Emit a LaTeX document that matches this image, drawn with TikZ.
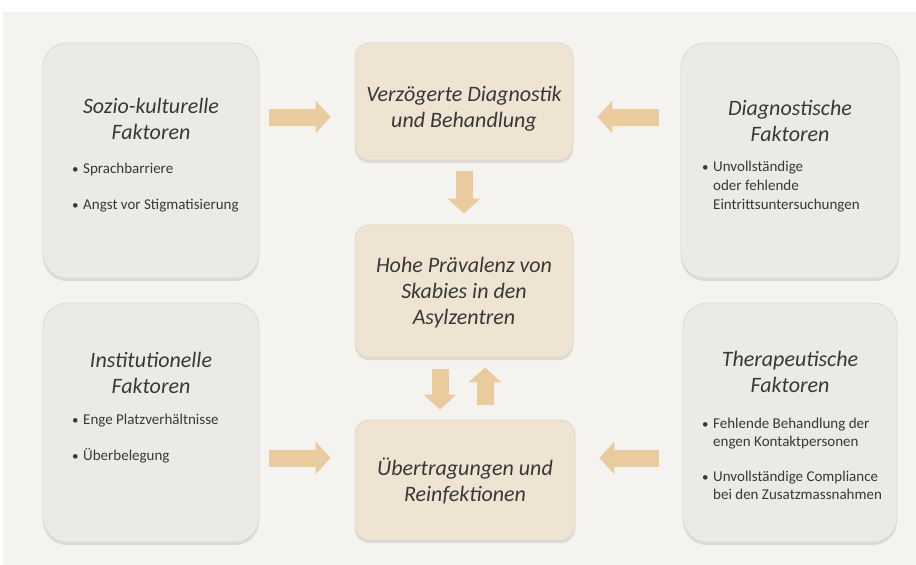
\documentclass[tikz,border=0pt]{standalone}
\usepackage{fontspec}
\setmainfont{Carlito}
\usetikzlibrary{arrows.meta,shadows}
\definecolor{bg}{HTML}{F4F3EF}
\definecolor{sidefill}{HTML}{ECEAE7}
\definecolor{sideborder}{HTML}{DDDAD6}
\definecolor{cfill}{HTML}{EFE3D1}
\definecolor{cborder}{HTML}{E6D7C2}
\definecolor{arrowc}{HTML}{EACB9E}
\definecolor{txt}{HTML}{383838}
\tikzset{
  sidebox/.style={draw=sideborder, fill=sidefill, line width=0.8pt, rounded corners=24pt,
    drop shadow={shadow xshift=0pt, shadow yshift=-3pt, opacity=0.10, fill=black}},
  centerbox/.style={draw=cborder, fill=cfill, line width=0.8pt, rounded corners=14pt,
    drop shadow={shadow xshift=0pt, shadow yshift=-3pt, opacity=0.10, fill=black}},
  titletext/.style={font=\fontsize{22}{26}\selectfont\itshape, text=txt, align=center, inner sep=0pt},
  bullettext/.style={font=\fontsize{15}{18}\selectfont, text=txt, align=left, inner sep=0pt, anchor=base west},
  bulletdot/.style={font=\fontsize{13}{18}\selectfont, text=txt, inner sep=0pt, anchor=base west},
  blockarrow/.style={draw=arrowc, line width=17pt, -{Triangle[width=32pt,length=15pt]}},
}
\begin{document}
\begin{tikzpicture}[x=1pt,y=-1pt]
\useasboundingbox (0,0) rectangle (916,565);
\fill[white] (0,0) rectangle (916,565);
\fill[bg] (3,12) rectangle (916,565);

% side boxes
\node[sidebox, minimum width=216pt, minimum height=235pt] (soz) at (151,160.5) {};
\node[sidebox, minimum width=218pt, minimum height=235pt] (dia) at (790,160.5) {};
\node[sidebox, minimum width=216pt, minimum height=239pt] (ins) at (151,422.5) {};
\node[sidebox, minimum width=214pt, minimum height=239pt] (the) at (790,422.5) {};

% center boxes
\node[centerbox, minimum width=218pt, minimum height=117pt] (ver) at (464,101.5) {};
\node[centerbox, minimum width=218pt, minimum height=132pt] (hoh) at (464,291) {};
\node[centerbox, minimum width=220pt, minimum height=120pt] (ueb) at (465,480) {};

% center texts
\node[titletext] (vert) at (464,109) {Verzögerte Diagnostik\\und Behandlung};
\node[titletext] (hoht) at (464,293) {Hohe Prävalenz von\\Skabies in den\\Asylzentren};
\node[titletext] (uebt) at (465,481) {Übertragungen und\\Reinfektionen};

% side titles
\node[titletext] (sozt) at (151,119) {Sozio-kulturelle\\Faktoren};
\node[titletext] (diat) at (790,121) {Diagnostische\\Faktoren};
\node[titletext] (inst) at (151,373) {Institutionelle\\Faktoren};
\node[titletext] (thet) at (790,372) {Therapeutische\\Faktoren};

% bullets: Sozio
\node[bulletdot] (sozb1) at (72,173) {•};
\node[bullettext] (sozl1) at (83,173) {Sprachbarriere};
\node[bulletdot] (sozb2) at (72,209) {•};
\node[bullettext] (sozl2) at (83,209) {Angst vor Stigmatisierung};

% bullets: Diagnostische
\node[bulletdot] (diab1) at (702,171) {•};
\node[bullettext] (dial1) at (713,171) {Unvollständige};
\node[bullettext] (dial2) at (713,190) {oder fehlende};
\node[bullettext] (dial3) at (713,209) {Eintrittsuntersuchungen};

% bullets: Institutionelle
\node[bulletdot] (insb1) at (72,424) {•};
\node[bullettext] (insl1) at (83,424) {Enge Platzverhältnisse};
\node[bulletdot] (insb2) at (72,460) {•};
\node[bullettext] (insl2) at (83,460) {Überbelegung};

% bullets: Therapeutische
\node[bulletdot] (theb1) at (702,428) {•};
\node[bullettext] (thel1) at (713,428) {Fehlende Behandlung der};
\node[bullettext] (thel2) at (713,446) {engen Kontaktpersonen};
\node[bulletdot] (theb2) at (702,481) {•};
\node[bullettext] (thel3) at (713,481) {Unvollständige Compliance};
\node[bullettext] (thel4) at (713,499) {bei den Zusatzmassnahmen};

% arrow levels
\coordinate (atop) at (0,117);
\coordinate (abot) at (0,458);
\coordinate (xdn) at (440,0);
\coordinate (xup) at (485,0);

\draw[blockarrow, shorten <=10pt, shorten >=24pt] (soz.east |- atop) -- (ver.west |- atop);
\draw[blockarrow, shorten <=22pt, shorten >=24pt] (dia.west |- atop) -- (ver.east |- atop);
\draw[blockarrow, shorten <=11pt, shorten >=11pt] (ver.south) -- (hoh.north);
\draw[blockarrow, shorten <=12pt, shorten >=10pt] (hoh.south -| xdn) -- (ueb.north -| xdn);
\draw[blockarrow, shorten <=15pt, shorten >=10pt] (ueb.north -| xup) -- (hoh.south -| xup);
\draw[blockarrow, shorten <=10pt, shorten >=24pt] (ins.east |- abot) -- (ueb.west |- abot);
\draw[blockarrow, shorten <=24pt, shorten >=24pt] (the.west |- abot) -- (ueb.east |- abot);
\end{tikzpicture}
\end{document}
